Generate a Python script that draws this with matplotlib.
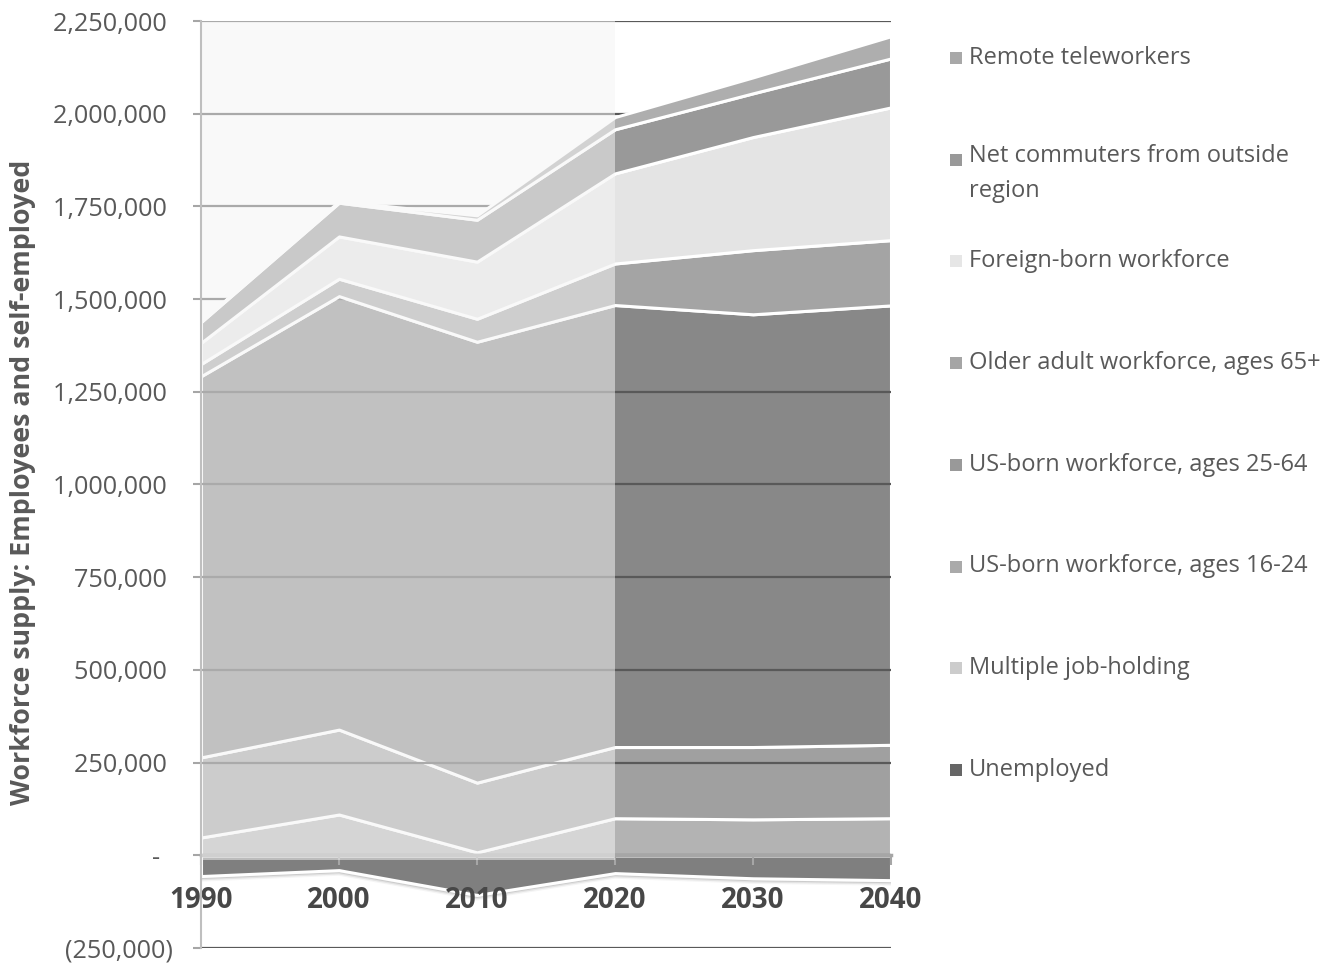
import numpy as np
import matplotlib
matplotlib.use("Agg")
import matplotlib.pyplot as plt
from matplotlib.patches import Rectangle

plt.rcParams['font.family'] = ['Open Sans', 'DejaVu Sans']

# ---------------- data ----------------
years = [1990, 2000, 2010, 2020, 2030, 2040]
unemployed = [-56000, -40000, -107000, -48000, -62000, -67000]
multiple_jobs = [48000, 110000, 8000, 100000, 97000, 100000]
usborn_16_24 = [216000, 229000, 188000, 192000, 195000, 198000]
usborn_25_64 = [1028000, 1169000, 1189000, 1192000, 1167000, 1185000]
older_65 = [33000, 47000, 62000, 112000, 173000, 176000]
foreign_born = [57000, 114000, 154000, 243000, 305000, 358000]
commuters = [56000, 91000, 113000, 119000, 118000, 132000]
remote = [2000, 4000, 12000, 33000, 43000, 60000]

labels = ["Remote teleworkers", "Net commuters from outside\nregion", "Foreign-born workforce",
          "Older adult workforce, ages 65+", "US-born workforce, ages 25-64",
          "US-born workforce, ages 16-24", "Multiple job-holding", "Unemployed"]
history_end = 2020
y_ticks = list(range(-250000, 2250001, 250000))

# ---------------- style ----------------
area_colors = {
    "unemployed": "#7f7f7f", "multiple": "#b3b3b3", "u1624": "#a0a0a0", "u2564": "#888888",
    "older": "#a4a4a4", "foreign": "#e4e4e4", "commuters": "#999999", "remote": "#aeaeae",
}
legend_colors = ["#a8a8a8", "#999999", "#e6e6e6", "#a5a5a5", "#999999", "#aaaaaa", "#cccccc", "#666666"]

W, H = 1328, 963
fig = plt.figure(figsize=(W / 100, H / 100), dpi=100)
ax = fig.add_axes([201 / W, (H - 948) / H, (891 - 201) / W, (948 - 21) / H])

x = np.array(years)
pos_series = [("multiple", multiple_jobs, 1), ("u1624", usborn_16_24, 1), ("u2564", usborn_25_64, 1),
              ("older", older_65, 2), ("foreign", foreign_born, 2), ("commuters", commuters, 2),
              ("remote", remote, 2)]

# unemployed (negative, below zero)
ax.fill_between(x, 0, np.array(unemployed), facecolor=area_colors["unemployed"],
                edgecolor="white", linewidth=2.2, zorder=1)
# soft shadow under unemployed edge
for k, a in enumerate([0.10, 0.07, 0.04]):
    ax.plot(x, np.array(unemployed) - (k + 1) * 3500, color="black", alpha=a, lw=2.5, zorder=0.9)

base = np.zeros(len(x))
for key, vals, z in pos_series:
    top = base + np.array(vals)
    ax.fill_between(x, base, top, facecolor=area_colors[key], edgecolor="white",
                    linewidth=2.2, zorder=z)
    base = top

ax.set_xlim(years[0], years[-1])
ax.set_ylim(y_ticks[0], y_ticks[-1])
ax.set_yticks(y_ticks)
ax.set_xticks(years)

def fmt(v):
    v = int(v)
    if v == 0:
        return "-  "
    if v < 0:
        return "({:,})".format(-v)
    return "{:,} ".format(v)

ax.set_yticklabels([fmt(v) for v in y_ticks])
ax.grid(axis="y", color="#595959", linewidth=1.6)
ax.set_axisbelow("line")

# overlay over historical period
ax.fill_between([years[0], history_end], -13000, y_ticks[-1], facecolor="#f4f4f4",
                alpha=0.53, linewidth=0, zorder=3)

for s in ["top", "right"]:
    ax.spines[s].set_visible(False)
ax.spines["bottom"].set_position(("data", 0))
ax.spines["bottom"].set_color("#a6a6a6")
ax.spines["bottom"].set_linewidth(2.5)
ax.spines["bottom"].set_zorder(2.5)
ax.spines["left"].set_color("#bfbfbf")
ax.spines["left"].set_linewidth(1.5)
ax.spines["left"].set_zorder(4)

ax.tick_params(axis="x", direction="out", length=7, width=1.5, color="#a6a6a6",
               pad=15, labelsize=20, labelcolor="#474747")
for t in ax.get_xticklabels():
    t.set_fontweight("bold")
ax.tick_params(axis="y", direction="out", length=6, width=1.5, color="#a6a6a6",
               pad=14, labelsize=18.2, labelcolor="#595959")

fig.text(23 / W, 1 - 482 / H, "Workforce supply: Employees and self-employed", rotation=90,
         ha="center", va="center", fontsize=19.3, fontweight="bold", color="#595959")

# legend (manual)
y0, dy = 58, 101.7
for i, (lab, col) in enumerate(zip(labels, legend_colors)):
    yc = y0 + i * dy
    fig.patches.append(Rectangle((950 / W, 1 - (yc + 6) / H), 12 / W, 12 / H,
                                 transform=fig.transFigure, facecolor=col, edgecolor="none"))
    if "\n" in lab:
        fig.text(969 / W, 1 - (yc - 16) / H, lab, ha="left", va="top", fontsize=17,
                 color="#595959", linespacing=1.62)
    else:
        fig.text(969 / W, 1 - yc / H, lab, ha="left", va="center", fontsize=17,
                 color="#595959")

fig.savefig("out.png", dpi=100)
